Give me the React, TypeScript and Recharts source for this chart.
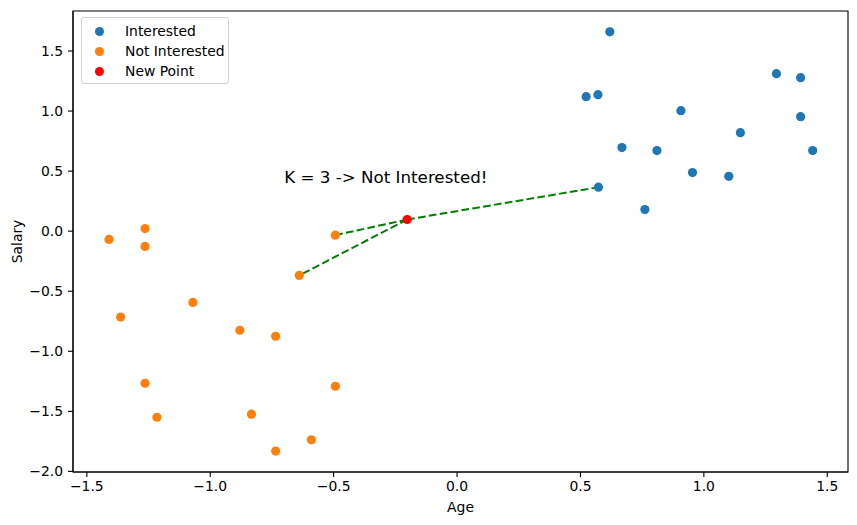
import React from 'react';
import { ScatterChart, Scatter, XAxis, YAxis, ReferenceLine, ReferenceArea } from 'recharts';

// standardized Age / Salary values
const interestedAge = [0.619, 0.523, 0.571, 0.907, 1.294, 1.392, 1.392, 1.148, 0.668, 0.810, 1.441, 0.954, 1.101, 0.573, 0.761];
const interestedSalary = [1.660, 1.120, 1.136, 1.003, 1.311, 1.278, 0.953, 0.820, 0.696, 0.671, 0.671, 0.488, 0.457, 0.366, 0.180];

const notInterestedAge = [-1.410, -1.264, -1.264, -0.493, -0.639, -1.070, -1.363, -0.880, -0.735, -1.264, -0.493, -1.216, -0.833, -0.590, -0.735];
const notInterestedSalary = [-0.069, 0.022, -0.127, -0.033, -0.368, -0.593, -0.715, -0.825, -0.875, -1.266, -1.291, -1.549, -1.524, -1.737, -1.831];

const newPointAge = [-0.202];
const newPointSalary = [0.097];

const K = 3;
const annotationText = 'K = 3 -> Not Interested!';
const annotationPos = [{ x: -0.70, y: 0.40 }];

const xTicks = [-1.5, -1.0, -0.5, 0.0, 0.5, 1.0, 1.5];
const yTicks = [-2.0, -1.5, -1.0, -0.5, 0.0, 0.5, 1.0, 1.5];
const xDomain: [number, number] = [-1.556, 1.584];
const yDomain: [number, number] = [-2.005, 1.833];

const FONT = '"DejaVu Sans", sans-serif';

const toPoints = (xs: number[], ys: number[]) => xs.map((x, i) => ({ x, y: ys[i] }));

const interested = toPoints(interestedAge, interestedSalary);
const notInterested = toPoints(notInterestedAge, notInterestedSalary);
const newPoint = toPoints(newPointAge, newPointSalary);

// nearest neighbours of the new point
const neighbours = [...interested, ...notInterested]
  .map(p => ({ ...p, d: Math.hypot(p.x - newPoint[0].x, p.y - newPoint[0].y) }))
  .sort((a, b) => a.d - b.d)
  .slice(0, K);

const fmt = (v: number) => (v < 0 ? '\u2212' : '') + Math.abs(v).toFixed(1);

const dot = (color: string) => (props: any) => (
  <circle cx={props.cx} cy={props.cy} r={4.6} fill={color} />
);

const legendItems = [
  { label: 'Interested', color: '#1f77b4' },
  { label: 'Not Interested', color: '#ff7f0e' },
  { label: 'New Point', color: '#ff0000' },
];

export default function App() {
  return (
    <div style={{ position: 'fixed', left: 0, top: 0, width: 857, height: 525, background: '#fff', fontFamily: FONT }}>
      <ScatterChart width={857} height={525} margin={{ top: 11, right: 9, left: 0, bottom: 0 }}>
        <XAxis
          type="number"
          dataKey="x"
          domain={xDomain}
          allowDataOverflow
          ticks={xTicks}
          tickFormatter={fmt}
          tickSize={5}
          tickMargin={4}
          height={53}
          stroke="#000"
          strokeWidth={1.1}
          tick={{ fill: '#000', fontSize: 13.9, fontFamily: FONT }}
          label={{ value: 'Age', position: 'insideBottom', offset: 13, style: { fill: '#000', fontSize: 13.9, fontFamily: FONT } }}
        />
        <YAxis
          type="number"
          dataKey="y"
          domain={yDomain}
          allowDataOverflow
          ticks={yTicks}
          tickFormatter={fmt}
          tickSize={5}
          tickMargin={5}
          width={73}
          stroke="#000"
          strokeWidth={1.1}
          tick={{ fill: '#000', fontSize: 13.9, fontFamily: FONT }}
          label={{ value: 'Salary', angle: -90, position: 'insideLeft', offset: 17, style: { textAnchor: 'middle', fill: '#000', fontSize: 13.9, fontFamily: FONT } }}
        />
        <ReferenceArea x1={xDomain[0]} x2={xDomain[1]} y1={yDomain[0]} y2={yDomain[1]} fill="none" stroke="#000" strokeWidth={1.1} ifOverflow="extendDomain" />
        <Scatter name="Interested" data={interested} shape={dot('#1f77b4')} isAnimationActive={false} />
        <Scatter name="Not Interested" data={notInterested} shape={dot('#ff7f0e')} isAnimationActive={false} />
        <Scatter name="New Point" data={newPoint} shape={dot('#ff0000')} isAnimationActive={false} />
        {neighbours.map((n, i) => (
          <ReferenceLine
            key={i}
            segment={[{ x: newPoint[0].x, y: newPoint[0].y }, { x: n.x, y: n.y }]}
            stroke="#008000"
            strokeWidth={2}
            strokeDasharray="7.7 3.3"
          />
        ))}
        <Scatter
          data={annotationPos}
          isAnimationActive={false}
          shape={(props: any) => (
            <text x={props.cx} y={props.cy} fill="#000" fontSize={16.7} fontFamily={FONT} textAnchor="start">
              {annotationText}
            </text>
          )}
        />
      </ScatterChart>
      <div
        style={{
          position: 'absolute', left: 81, top: 17, width: 148, height: 67,
          border: '1px solid #d0d0d0', borderRadius: 3, background: 'rgba(255,255,255,0.8)',
          boxSizing: 'border-box', fontSize: 13.9, color: '#000',
        }}
      >
        {legendItems.map((it, i) => (
          <div key={it.label} style={{ position: 'absolute', left: 0, top: 3 + i * 20, height: 20, display: 'flex', alignItems: 'center' }}>
            <span style={{ display: 'inline-block', width: 9, height: 9, borderRadius: '50%', background: it.color, marginLeft: 13, marginRight: 21 }} />
            <span style={{ whiteSpace: 'nowrap' }}>{it.label}</span>
          </div>
        ))}
      </div>
    </div>
  );
}
